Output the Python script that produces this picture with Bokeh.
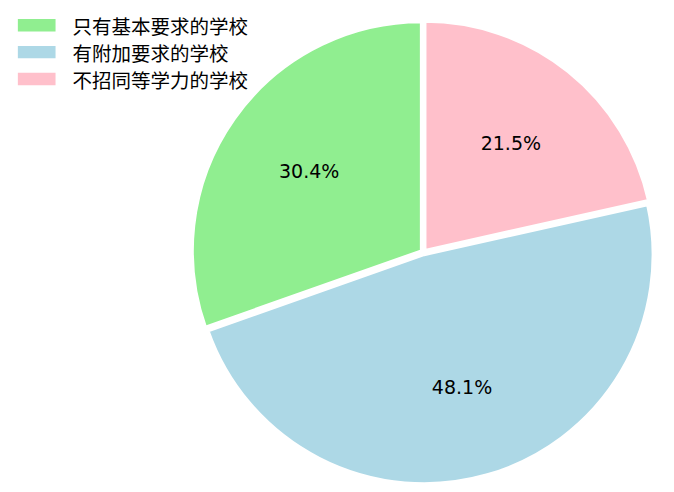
import numpy as np
from bokeh.plotting import figure
from bokeh.models import Range1d
from bokeh.core.properties import value
from bokeh.embed import file_html
from bokeh.resources import INLINE

# Share of schools by admission requirement
categories = ["只有基本要求的学校", "有附加要求的学校", "不招同等学力的学校"]
shares = [30.4, 48.1, 21.5]
colors = ["#90EE90", "#ADD8E6", "#FFC0CB"]

W, H = 674, 492
p = figure(width=W, height=H, output_backend="svg", toolbar_location=None,
           x_range=Range1d(0, W), y_range=Range1d(0, H),
           min_border=0, outline_line_color=None)
p.axis.visible = False
p.grid.visible = False
p.background_fill_color = "white"
p.border_fill_color = "white"

# pie geometry (screen-pixel units, y measured upwards)
cx, cy = 422.9, H - 251.8
r = 229.0
explode = 2.5

vals = np.array(shares, dtype=float)
frac = vals / vals.sum()
start = np.pi / 2 + 2 * np.pi * np.concatenate([[0], np.cumsum(frac)[:-1]])
end = start + 2 * np.pi * frac
mid = (start + end) / 2

xs = cx + explode * np.cos(mid)
ys = cy + explode * np.sin(mid)

p.wedge(x=xs, y=ys, radius=r, start_angle=start, end_angle=end,
        direction="anticlock", fill_color=colors, line_color="white",
        line_width=3)

# percentage labels at 60% of the radius
lx = xs + 0.6 * r * np.cos(mid)
ly = ys + 0.6 * r * np.sin(mid)
p.text(x=lx, y=ly, text=[f"{v:.1f}%" for v in shares],
       text_align="center", text_baseline="middle",
       text_font=value("DejaVu Sans"), text_font_size="19px",
       text_color="black")

# legend in the top-left corner
row0, step = 24.7, 26.9
rows = np.arange(len(categories))
ry = H - (row0 + step * rows)
p.rect(x=36.2, y=ry, width=37.7, height=12.4, fill_color=colors,
       line_color=None)
p.text(x=72, y=ry, text=categories, text_align="left",
       text_baseline="middle", text_font=value("Noto Sans CJK SC"),
       text_font_size="19.5px", text_color="black")

open("out.html", "w").write(file_html(p, INLINE))
